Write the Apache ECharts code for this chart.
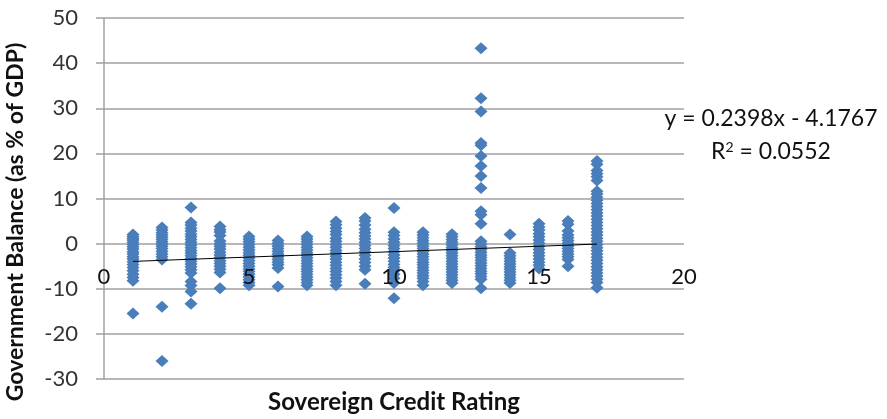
<!DOCTYPE html>
<html>
<head>
<meta charset="utf-8">
<script src="https://cdn.jsdelivr.net/npm/echarts@6/dist/echarts.min.js"></script>
<style>
  html, body { margin: 0; padding: 0; background: #fff; }
  #chart { width: 887px; height: 419px; }
</style>
</head>
<body>
<div id="chart"></div>
<script>
// sovereign credit rating (x) and the government balances seen at each rating (y)
var ratings = [1, 2, 3, 4, 5, 6, 7, 8, 9, 10, 11, 12, 13, 14, 15, 16, 17];
var balances = [
  [2.0, 1.6, 1.2, 0.8, 0.3, -0.2, -0.7, -1.2, -1.8, -2.3, -2.9, -3.4, -4.0, -4.6, -5.3, -6.0, -6.8, -7.5, -8.2, -15.5],
  [3.6, 3.0, 2.4, 1.9, 1.4, 0.9, 0.4, -0.1, -0.6, -1.1, -1.7, -2.3, -2.9, -3.5, -14.0, -26.0],
  [8.0, 4.7, 4.1, 3.4, 2.8, 2.1, 1.5, 0.9, 0.3, -0.3, -0.9, -1.5, -2.1, -2.7, -3.3, -3.9, -4.5, -5.1, -5.8, -6.5, -8.4, -9.3, -10.6, -13.3],
  [3.8, 3.1, 2.6, 1.8, 0.6, 0.0, -0.6, -1.2, -1.9, -2.5, -3.1, -3.8, -4.4, -5.0, -5.7, -6.4, -9.9],
  [1.6, 1.0, 0.4, -0.2, -0.8, -1.4, -2.0, -2.6, -3.2, -3.8, -4.4, -5.0, -5.6, -6.2, -6.8, -7.4, -8.0, -8.6, -9.2],
  [0.7, 0.1, -0.5, -1.1, -1.7, -2.3, -2.9, -3.5, -4.1, -4.7, -5.4, -9.5],
  [1.6, 1.0, 0.4, -0.2, -0.8, -1.4, -2.0, -2.6, -3.2, -3.8, -4.4, -5.0, -5.6, -6.2, -6.8, -7.4, -8.0, -8.6, -9.2],
  [4.9, 4.2, 3.4, 2.7, 2.0, 1.2, 0.5, -0.2, -0.8, -1.5, -2.1, -2.8, -3.4, -4.1, -4.8, -5.5, -6.2, -6.9, -7.6, -8.4, -9.2],
  [5.7, 5.0, 4.1, 3.2, 2.4, 1.7, 1.0, 0.3, -0.4, -1.1, -1.8, -2.6, -3.4, -4.2, -5.0, -5.8, -8.9],
  [7.9, 2.5, 1.8, 1.0, 0.3, -0.4, -1.1, -1.8, -2.5, -3.2, -3.9, -4.6, -5.3, -6.0, -6.8, -7.7, -8.7, -12.1],
  [2.5, 1.9, 1.3, 0.7, 0.1, -0.5, -1.1, -1.7, -2.3, -2.9, -3.5, -4.1, -4.7, -5.3, -5.9, -6.5, -7.1, -7.7, -8.4, -9.2],
  [2.1, 1.5, 0.9, 0.3, -0.3, -0.9, -1.5, -2.1, -2.7, -3.3, -3.9, -4.5, -5.1, -5.7, -6.3, -6.9, -7.5, -8.1, -8.7],
  [43.3, 32.2, 29.3, 22.3, 21.8, 19.4, 17.2, 15.0, 12.3, 7.2, 6.4, 4.4, 0.5, -0.1, -0.7, -1.3, -1.9, -2.5, -3.1, -3.7, -4.3, -4.9, -5.5, -6.1, -6.7, -7.3, -7.9, -9.9],
  [2.0, -2.1, -2.7, -3.3, -3.9, -4.5, -5.1, -5.7, -6.3, -6.9, -7.5, -8.1, -8.7],
  [4.4, 3.7, 3.0, 2.2, 1.5, 0.8, 0.1, -0.6, -1.3, -2.0, -2.7, -3.4, -4.1, -4.8, -5.5],
  [5.0, 4.3, 2.8, 1.9, 1.3, 0.7, 0.1, -0.5, -1.1, -1.7, -2.3, -2.9, -3.5, -5.0],
  [18.3, 17.6, 16.2, 15.5, 14.8, 14.0, 11.6, 11.0, 10.3, 9.6, 8.9, 8.2, 7.5, 6.8, 6.1, 5.4, 4.7, 4.0, 3.3, 2.6, 1.9, 1.2, 0.5, -0.2, -0.9, -1.6, -2.3, -3.0, -3.7, -4.4, -5.1, -5.8, -6.5, -7.2, -7.9, -8.6, -9.8]
];
// x tick labels, which sit on the y = 0 line
var xTicks = [0, 5, 10, 15, 20];
// linear trendline ends, as drawn (x = 1 .. 17)
var trendLine = [[1, -3.94], [17, -0.10]];
var trendLabel = 'y = 0.2398x - 4.1767';
var r2Label = '0.0552';

var xTitle = 'Sovereign Credit Rating';
var yTitle = 'Government Balance (as % of GDP)';

var points = [];
ratings.forEach(function(r, i){
    balances[i].forEach(function(v){
        points.push([r, v]);
    });
});

var font = 'Lato, "Liberation Sans", sans-serif';

var option = {
    animation: false,
    grid: {left: 104, right: 203, top: 18, bottom: 40, outerBoundsMode: 'none'},
    xAxis: {
        type: 'value',
        min: 0, max: 20, interval: 5,
        axisLine: {show: false},
        axisTick: {show: false},
        splitLine: {show: false},
        axisLabel: {show: false}
    },
    yAxis: {
        type: 'value',
        min: -30, max: 50, interval: 10,
        axisLine: {show: true, lineStyle: {color: '#a0a0a0', width: 1.5}},
        axisTick: {show: true, length: 8, lineStyle: {color: '#a0a0a0', width: 1.5}},
        splitLine: {show: true, lineStyle: {color: '#a0a0a0', width: 1.5}},
        axisLabel: {margin: 26, fontSize: 22, color: '#333', fontFamily: font}
    },
    graphic: [
        {type: 'text', x: 394, y: 402, style: {text: xTitle, textAlign: 'center', textVerticalAlign: 'middle',
            font: 'bold 24px ' + font, fill: '#111'}},
        {type: 'text', x: 16, y: 222, rotation: Math.PI / 2, style: {text: yTitle, textAlign: 'center',
            textVerticalAlign: 'middle', font: 'bold 23px ' + font, fill: '#111'}},
        {type: 'text', x: 771, y: 119, style: {text: trendLabel, textAlign: 'center', textVerticalAlign: 'middle',
            font: '23px ' + font, fill: '#111'}},
        {type: 'text', x: 771, y: 152, style: {text: '{a|R}{s|2}{a| = ' + r2Label + '}', textAlign: 'center',
            textVerticalAlign: 'middle', fill: '#111',
            rich: {a: {font: '23px ' + font, fill: '#111'}, s: {font: '14px ' + font, fill: '#111', verticalAlign: 'top', padding: [0, 0, 8, 0]}}}}
    ],
    series: [
        {
            name: 'balance',
            type: 'scatter',
            symbol: 'diamond',
            symbolSize: [13, 12],
            itemStyle: {color: '#4a7ebb', opacity: 1},
            data: points,
            z: 2
        },
        {
            name: 'trend',
            type: 'line',
            data: trendLine,
            symbol: 'none',
            lineStyle: {color: '#000', width: 1},
            z: 4
        },
        {
            // x axis numbers placed on the zero line
            name: 'xticks',
            type: 'scatter',
            symbolSize: 0,
            silent: true,
            clip: false,
            itemStyle: {opacity: 1, color: '#fff'},
            data: xTicks.map(function(t){ return [t, 0]; }),
            label: {
                show: true, position: 'bottom', distance: 22,
                formatter: function(p){ return p.value[0]; },
                fontSize: 22, color: '#111', opacity: 1, fontFamily: font
            },
            z: 5
        }
    ]
};

var myChart = echarts.init(document.getElementById('chart'));
myChart.setOption(option);
</script>
</body>
</html>
